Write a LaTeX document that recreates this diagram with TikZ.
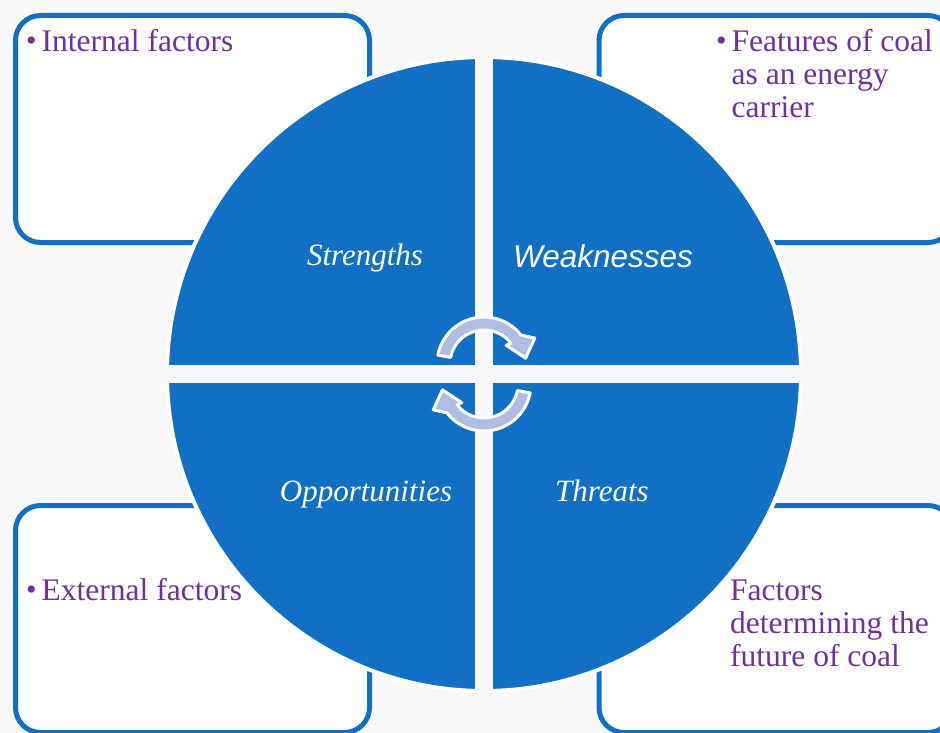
\documentclass[tikz,border=0pt]{standalone}
\usepackage{fontspec}
\setmainfont{Liberation Serif}
\newfontfamily\arialfont{Liberation Sans}
\usetikzlibrary{positioning}
\definecolor{swotblue}{RGB}{17,112,196}
\definecolor{swotpurple}{RGB}{112,48,160}
\definecolor{swotarrow}{RGB}{176,188,226}
\definecolor{swotbg}{RGB}{248,248,248}
\newcommand{\bul}{{\fontsize{30}{30}\selectfont\raisebox{1pt}{•}}\hspace{5pt}}
\tikzset{
	x=1pt, y=-1pt, % pixel-like coordinates, y runs downwards
	factbox/.style={draw=swotblue, line width=5pt, fill=white, rounded corners=25pt, minimum width=354pt, minimum height=227pt, inner sep=0pt}, % the four frames
	facttext/.style={anchor=base west, inner sep=0pt, text=swotpurple, font=\fontsize{31.5}{33}\selectfont}, % purple texts in the frames
	quadtext/.style={anchor=base, inner sep=0pt, text=white, font=\fontsize{31}{33}\selectfont\itshape}, % labels of the quadrants
	turn/.style={fill=swotarrow, draw=white, line width=3pt, line join=round}, % the two round arrows
}

\begin{document}
\begin{tikzpicture}
	\fill[swotbg] (0,0) rectangle (940,733);
	\useasboundingbox (0,0) rectangle (940,733);
	% frames
	\node[factbox] (intbox) at (192.5,129) {};
	\node[factbox] (featbox) at (776,129) {};
	\node[factbox] (extbox) at (192.5,619) {};
	\node[factbox] (futbox) at (776,619) {};
	\node[facttext] (inttext) at (26,52) {\bul Internal factors};
	\node[facttext] (feattext) at (716,52) {\bul\begin{tabular}[t]{@{}l@{}}Features of coal\\as an energy\\carrier\end{tabular}};
	\node[facttext] (exttext) at (26,600) {\bul External factors};
	\node[facttext] (futtext) at (730,600) {\begin{tabular}[t]{@{}l@{}}Factors\\determining the\\future of coal\end{tabular}};
	% circle cut in four
	\fill[swotblue, draw=white, line width=4pt] (484,374) circle[radius=317];
	\draw[swotbg, line width=18pt] (484,50) -- (484,698) (160,374) -- (808,374);
	\node[quadtext] (str) at (365,265) {Strengths};
	\node[quadtext, font=\arialfont\fontsize{31.5}{33}\selectfont\itshape] (weak) at (603,267) {Weaknesses};
	\node[quadtext] (opp) at (366,501) {Opportunities};
	\node[quadtext] (thr) at (602,501) {Threats};
	% arrows
	\begin{scope}[shift={(484,364)}]
		\path[turn] (191:47) arc[start angle=191, end angle=322, radius=47] -- (333:57) -- (352:42) -- (320:29) -- (322:34) arc[start angle=322, end angle=191, radius=34] -- cycle;
	\end{scope}
	\begin{scope}[shift={(484,384)}]
		\path[turn] (11:47) arc[start angle=11, end angle=142, radius=47] -- (153:57) -- (172:42) -- (140:29) -- (142:34) arc[start angle=142, end angle=11, radius=34] -- cycle;
	\end{scope}
\end{tikzpicture}
\end{document}
